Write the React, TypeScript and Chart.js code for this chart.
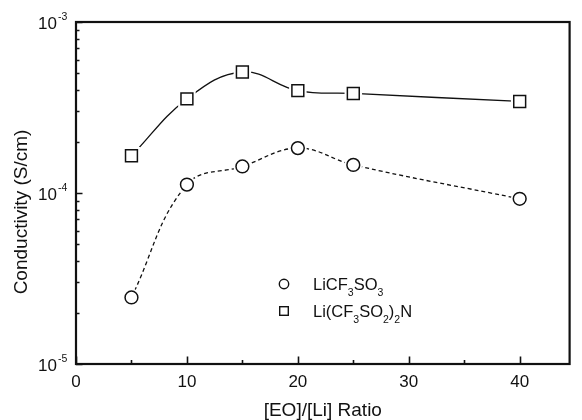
import React, { useEffect, useRef } from 'react';
import { Chart, registerables } from 'chart.js';

Chart.register(...registerables);

// ---- data ----
const ratios = [5, 10, 15, 20, 25, 40];
const triflate = [2.45e-5, 1.12e-4, 1.43e-4, 1.83e-4, 1.46e-4, 9.25e-5];
const imide = [1.65e-4, 3.55e-4, 5.1e-4, 3.97e-4, 3.82e-4, 3.43e-4];
const seriesNames = ['LiCF_3SO_3', 'Li(CF_3SO_2)_2N'];
const xMajorTicks = [0, 10, 20, 30, 40];
const xMinorTicks = [5, 15, 25, 35];
const yDecades = [-5, -4, -3];
const xTitle = '[EO]/[Li] Ratio';
const yTitle = 'Conductivity (S/cm)';

const FONT = '"Liberation Sans", Arial, Helvetica, sans-serif';
const INK = '#111111';

function drawRich(ctx: CanvasRenderingContext2D, text: string, x: number, y: number, size: number, subSize: number, drop: number) {
  let cx = x;
  for (let i = 0; i < text.length; i++) {
    const ch = text[i];
    if (ch === '_' && i + 1 < text.length) {
      ctx.font = `${subSize}px ${FONT}`;
      ctx.fillText(text[i + 1], cx, y + drop);
      cx += ctx.measureText(text[i + 1]).width;
      i++;
    } else {
      ctx.font = `${size}px ${FONT}`;
      ctx.fillText(ch, cx, y);
      cx += ctx.measureText(ch).width;
    }
  }
}

const decorPlugin = {
  id: 'decor',
  afterDraw(chart: any) {
    const ctx: CanvasRenderingContext2D = chart.ctx;
    const { left, right, top, bottom } = chart.chartArea;
    const xs = chart.scales.x;
    const ys = chart.scales.y;
    ctx.save();
    ctx.strokeStyle = INK;
    ctx.fillStyle = INK;
    // frame
    ctx.lineWidth = 2.2;
    ctx.strokeRect(left, top, right - left, bottom - top);
    // x ticks
    ctx.lineWidth = 1.6;
    ctx.beginPath();
    xMajorTicks.forEach((v) => {
      const px = Math.round(xs.getPixelForValue(v)) + 0.5;
      ctx.moveTo(px, bottom);
      ctx.lineTo(px, bottom - 7.5);
    });
    xMinorTicks.forEach((v) => {
      const px = Math.round(xs.getPixelForValue(v)) + 0.5;
      ctx.moveTo(px, bottom);
      ctx.lineTo(px, bottom - 4);
    });
    // y ticks
    yDecades.forEach((d, i) => {
      const py = Math.round(ys.getPixelForValue(Math.pow(10, d))) + 0.5;
      ctx.moveTo(left, py);
      ctx.lineTo(left + 6.5, py);
      if (i < yDecades.length - 1) {
        for (let k = 2; k <= 9; k++) {
          const pm = Math.round(ys.getPixelForValue(k * Math.pow(10, d))) + 0.5;
          ctx.moveTo(left, pm);
          ctx.lineTo(left + 3.5, pm);
        }
      }
    });
    ctx.stroke();

    // x tick labels
    ctx.font = `17px ${FONT}`;
    ctx.textAlign = 'center';
    ctx.textBaseline = 'alphabetic';
    xMajorTicks.forEach((v) => {
      ctx.fillText(String(v), xs.getPixelForValue(v), bottom + 23);
    });

    // y tick labels 10^d
    yDecades.forEach((d) => {
      const py = ys.getPixelForValue(Math.pow(10, d));
      ctx.font = `17px ${FONT}`;
      ctx.textAlign = 'right';
      ctx.fillText('10', left - 19, py + 7);
      ctx.font = `10.5px ${FONT}`;
      ctx.textAlign = 'left';
      ctx.fillText(String(d), left - 18, py - 2);
    });

    // titles
    ctx.font = `19px ${FONT}`;
    ctx.textAlign = 'center';
    ctx.fillText(xTitle, (left + right) / 2, 416);
    ctx.save();
    ctx.translate(27, 212);
    ctx.rotate(-Math.PI / 2);
    ctx.fillText(yTitle, 0, 0);
    ctx.restore();

    // legend
    ctx.lineWidth = 1.4;
    const lx = 284;
    const rows = [284, 311];
    ctx.fillStyle = '#ffffff';
    ctx.beginPath();
    ctx.arc(lx, rows[0], 4.7, 0, Math.PI * 2);
    ctx.fill();
    ctx.stroke();
    ctx.fillRect(lx - 4.3, rows[1] - 4.3, 8.6, 8.6);
    ctx.strokeRect(lx - 4.3, rows[1] - 4.3, 8.6, 8.6);
    ctx.fillStyle = INK;
    ctx.textAlign = 'left';
    seriesNames.forEach((name, i) => {
      drawRich(ctx, name, 313, rows[i] + 6, 16.5, 10.5, 6);
    });
    ctx.restore();
  },
};

function series(values: number[]) {
  return ratios.map((x, i) => ({ x, y: values[i] }));
}

export default function App() {
  const ref = useRef<HTMLCanvasElement | null>(null);
  useEffect(() => {
    if (!ref.current) return;
    const circleR = 6.4;
    const squareR = 8.4;
    const chart = new Chart(ref.current, {
      type: 'line',
      data: {
        datasets: [
          // lines
          {
            label: 'imide-line',
            data: series(imide),
            borderColor: INK,
            borderWidth: 1.3,
            tension: 0.4,
            pointRadius: 0,
            fill: false,
            order: 3,
          },
          {
            label: 'triflate-line',
            data: series(triflate),
            borderColor: INK,
            borderWidth: 1.3,
            borderDash: [4, 3],
            tension: 0.4,
            pointRadius: 0,
            fill: false,
            order: 3,
          },
          // halos
          {
            label: 'imide-halo',
            data: series(imide),
            showLine: false,
            pointStyle: 'rect',
            pointRadius: squareR + 4,
            pointBackgroundColor: '#ffffff',
            pointBorderColor: '#ffffff',
            pointBorderWidth: 0,
            order: 2,
          },
          {
            label: 'triflate-halo',
            data: series(triflate),
            showLine: false,
            pointStyle: 'circle',
            pointRadius: circleR + 2.5,
            pointBackgroundColor: '#ffffff',
            pointBorderColor: '#ffffff',
            pointBorderWidth: 0,
            order: 2,
          },
          // markers
          {
            label: seriesNames[1],
            data: series(imide),
            showLine: false,
            pointStyle: 'rect',
            pointRadius: squareR,
            pointBackgroundColor: '#ffffff',
            pointBorderColor: INK,
            pointBorderWidth: 1.5,
            order: 1,
          },
          {
            label: seriesNames[0],
            data: series(triflate),
            showLine: false,
            pointStyle: 'circle',
            pointRadius: circleR,
            pointBackgroundColor: '#ffffff',
            pointBorderColor: INK,
            pointBorderWidth: 1.5,
            order: 1,
          },
        ],
      },
      options: {
        animation: false,
        responsive: false,
        maintainAspectRatio: false,
        devicePixelRatio: 1,
        layout: { padding: { left: 76, right: 5, top: 22, bottom: 56 } },
        plugins: { legend: { display: false }, tooltip: { enabled: false } },
        scales: {
          x: {
            type: 'linear',
            min: 0,
            max: 44.5,
            grid: { display: false, drawTicks: false },
            border: { display: false },
            ticks: { display: false },
            afterFit: (s: any) => {
              s.height = 0;
            },
          },
          y: {
            type: 'logarithmic',
            min: 1e-5,
            max: 1e-3,
            grid: { display: false, drawTicks: false },
            border: { display: false },
            ticks: { display: false },
            afterFit: (s: any) => {
              s.width = 0;
            },
          },
        },
      },
      plugins: [decorPlugin],
    } as any);
    return () => chart.destroy();
  }, []);

  return (
    <div style={{ position: 'fixed', left: 0, top: 0, width: 582, height: 420, background: '#ffffff' }}>
      <canvas ref={ref} width={582} height={420} style={{ width: 582, height: 420, display: 'block' }} />
    </div>
  );
}
